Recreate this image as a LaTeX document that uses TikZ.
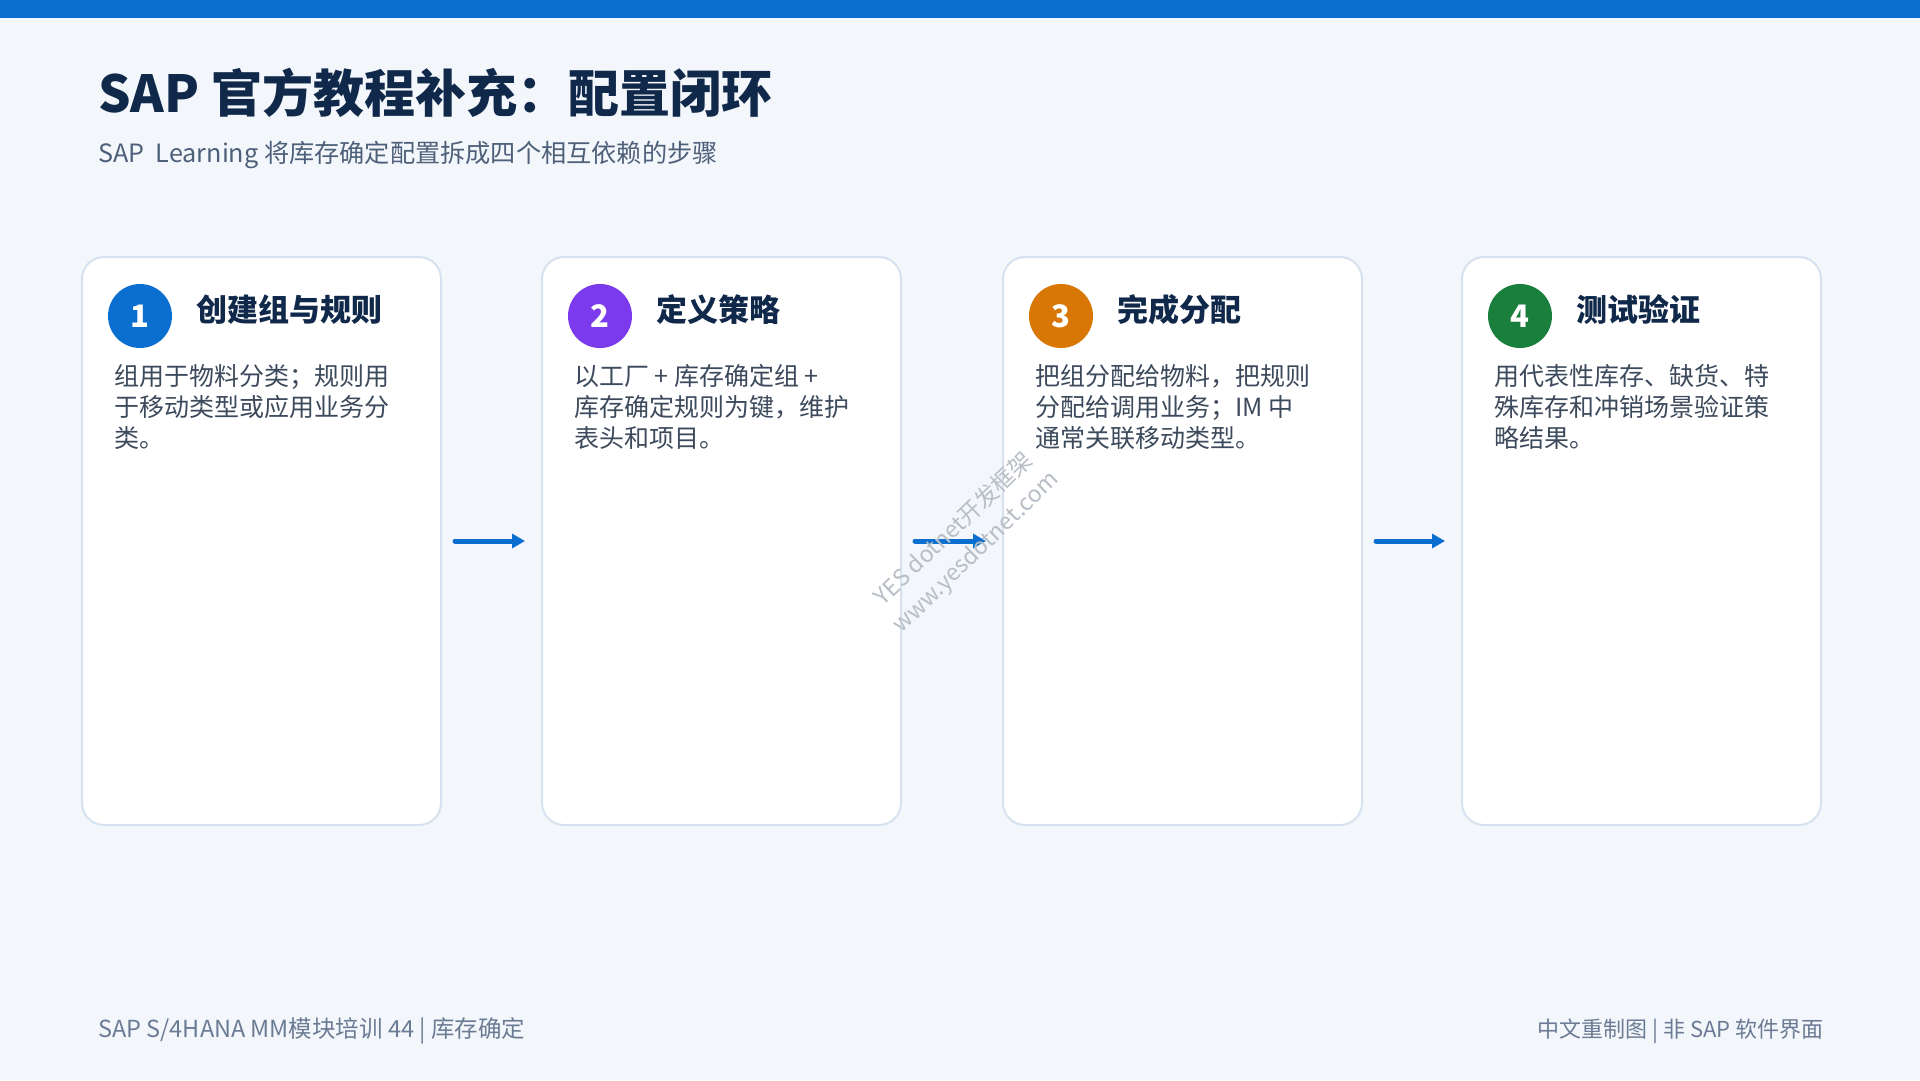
\documentclass[tikz,border=0pt]{standalone}
\usepackage{fontspec}
\setmainfont{Noto Sans CJK SC}
\usetikzlibrary{arrows.meta}
\definecolor{bgc}{HTML}{F3F7FC}
\definecolor{barc}{HTML}{0B6FCF}
\definecolor{titlec}{HTML}{10294A}
\definecolor{subc}{HTML}{4E6079}
\definecolor{bodyc}{HTML}{3C4A5C}
\definecolor{footc}{HTML}{6B7B93}
\definecolor{cardb}{HTML}{D6E2F0}
\definecolor{c1}{HTML}{0B6FCF}
\definecolor{c2}{HTML}{7C3AED}
\definecolor{c3}{HTML}{D97706}
\definecolor{c4}{HTML}{1A7F3C}
\definecolor{wmc}{HTML}{B8BEC6}
\tikzset{
  cardbox/.style={draw=cardb, line width=2pt, fill=white, rounded corners=22pt,
    minimum width=359pt, minimum height=568pt, inner sep=0pt, anchor=north west},
  numdot/.style={circle, minimum size=64pt, inner sep=0pt, text=white,
    font=\fontsize{31}{31}\selectfont\bfseries},
  headtxt/.style={anchor=base west, inner sep=0pt, text=titlec,
    font=\fontsize{31}{36}\selectfont\bfseries},
  bodytxt/.style={anchor=base west, inner sep=0pt, text=bodyc, align=left,
    font=\fontsize{25}{31}\selectfont},
  flow/.style={draw=barc, line width=5pt, line cap=round,
    -{Triangle[length=13pt,width=14pt]}, shorten <=13pt, shorten >=16pt},
}
\begin{document}
\begin{tikzpicture}[x=1pt,y=-1pt]
\fill[bgc] (0,0) rectangle (1920,1080);
\useasboundingbox (0,0) rectangle (1920,1080);
\fill[barc] (0,0) rectangle (1920,18);
\node[anchor=base west, inner sep=0pt, text=titlec, font=\fontsize{51}{60}\selectfont\bfseries] (title) at (98,112.5) {SAP 官方教程补充：配置闭环};
\node[anchor=base west, inner sep=0pt, text=subc, font=\fontsize{25.2}{30}\selectfont] (subtitle) at (98,162.5) {SAP\ \ Learning 将库存确定配置拆成四个相互依赖的步骤};
% cards
\node[cardbox] (card1) at (81,256) {};
\node[cardbox] (card2) at (541,256) {};
\node[cardbox] (card3) at (1002,256) {};
\node[cardbox] (card4) at (1461,256) {};
% card 1
\node[numdot, fill=c1] (num1) at (140,316) {1};
\node[headtxt] (head1) at (196,321) {创建组与规则};
\node[bodytxt] (body1) at (114,447.5) {组用于物料分类；规则用\\于移动类型或应用业务分\\类。};
% card 2
\node[numdot, fill=c2] (num2) at (600,316) {2};
\node[headtxt] (head2) at (656,321) {定义策略};
\node[bodytxt] (body2) at (574,447.5) {以工厂 + 库存确定组 +\\库存确定规则为键，维护\\表头和项目。};
% card 3
\node[numdot, fill=c3] (num3) at (1061,316) {3};
\node[headtxt] (head3) at (1117,321) {完成分配};
\node[bodytxt] (body3) at (1035,447.5) {把组分配给物料，把规则\\分配给调用业务；IM 中\\通常关联移动类型。};
% card 4
\node[numdot, fill=c4] (num4) at (1520,316) {4};
\node[headtxt] (head4) at (1576,321) {测试验证};
\node[bodytxt] (body4) at (1494,447.5) {用代表性库存、缺货、特\\殊库存和冲销场景验证策\\略结果。};
% arrows
\draw[flow] (card1.east) -- (card2.west);
\draw[flow] (card2.east) -- (card3.west);
\draw[flow] (card3.east) -- (card4.west);
% watermark
\node[rotate=44, text=wmc, align=center, inner sep=0pt, font=\fontsize{23}{32}\selectfont] (wm) at (965,541) {YES dotnet开发框架\\www.yesdotnet.com};
% footer
\node[anchor=base west, inner sep=0pt, text=footc, font=\fontsize{23.5}{26}\selectfont] (footl) at (98,1037.5) {SAP S/4HANA MM模块培训 44 | 库存确定};
\node[anchor=base east, inner sep=0pt, text=footc, font=\fontsize{22}{24}\selectfont] (footr) at (1824,1037.5) {中文重制图 | 非 SAP 软件界面};
\end{tikzpicture}
\end{document}
